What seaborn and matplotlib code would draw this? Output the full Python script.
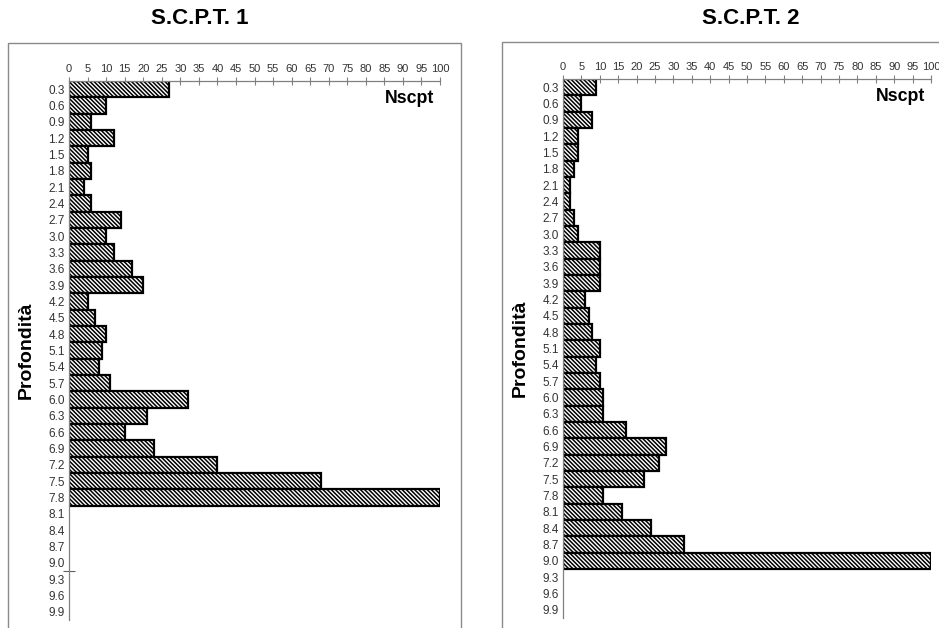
import matplotlib
matplotlib.use("Agg")
import matplotlib.pyplot as plt
from matplotlib.patches import Rectangle
import seaborn as sns
import pandas as pd

depths = ["0.3", "0.6", "0.9", "1.2", "1.5", "1.8", "2.1", "2.4", "2.7", "3.0",
          "3.3", "3.6", "3.9", "4.2", "4.5", "4.8", "5.1", "5.4", "5.7", "6.0",
          "6.3", "6.6", "6.9", "7.2", "7.5", "7.8", "8.1", "8.4", "8.7", "9.0",
          "9.3", "9.6", "9.9"]

nscpt_1 = [27, 10, 6, 12, 5, 6, 4, 6, 14, 10, 12, 17, 20, 5, 7, 10, 9, 8, 11,
           32, 21, 15, 23, 40, 68, 100]
nscpt_2 = [9, 5, 8, 4, 4, 3, 2, 2, 3, 4, 10, 10, 10, 6, 7, 8, 10, 9, 10, 11,
           11, 17, 28, 26, 22, 11, 16, 24, 33, 100]

titles = ["S.C.P.T. 1", "S.C.P.T. 2"]
x_ticks = list(range(0, 101, 5))

HATCH = "\\" * 8

sns.set_style("white")
plt.rcParams["font.family"] = ["Liberation Sans", "DejaVu Sans"]
plt.rcParams["hatch.linewidth"] = 1.1
plt.rcParams["hatch.color"] = "black"

fig = plt.figure(figsize=(9.39, 6.28), dpi=100)

# panel frames
fig.patches.append(Rectangle((8 / 939, -0.02), 453 / 939, 1 - 43 / 628 + 0.02,
                             transform=fig.transFigure, fill=False,
                             edgecolor="#8a8a8a", linewidth=1.0))
fig.patches.append(Rectangle((502 / 939, -0.02), 0.5, 1 - 41.7 / 628 + 0.02,
                             transform=fig.transFigure, fill=False,
                             edgecolor="#8a8a8a", linewidth=1.0))

axes_pos = [
    [69 / 939, 1 - 620 / 628, (440 - 69) / 939, (620 - 81) / 628],
    [563 / 939, 1 - 618 / 628, (931 - 563) / 939, (618 - 79) / 628],
]
title_x = [200 / 939, 751 / 939]
series = [nscpt_1, nscpt_2]

for i in range(2):
    ax = fig.add_axes(axes_pos[i])
    vals = series[i]
    df = pd.DataFrame({"depth": depths[:len(vals)], "n": vals})
    sns.barplot(data=df, x="n", y="depth", order=depths, orient="h",
                color="white", edgecolor="black", linewidth=1.6,
                hatch=HATCH, width=1.0, ax=ax, saturation=1)
    for p in ax.patches:
        p.set_facecolor("white")
        p.set_hatch(HATCH)
    ax.set_xlim(0, 100)
    ax.set_ylim(len(depths) - 0.5, -0.5)
    ax.xaxis.tick_top()
    ax.set_xticks(x_ticks)
    ax.set_xticklabels([str(t) for t in x_ticks])
    ax.tick_params(axis="x", direction="inout", length=6, width=0.8,
                   color="#808080", labelsize=8, labelcolor="#333333", pad=2)
    ax.tick_params(axis="y", length=0, labelsize=8.5, labelcolor="#333333", pad=3)
    if i == 0:
        ax.set_yticks([29.5], minor=True)
        ax.tick_params(axis="y", which="minor", direction="inout", length=8,
                       width=0.8, color="#606060", left=True)
    for s in ["right", "bottom"]:
        ax.spines[s].set_visible(False)
    for s in ["top", "left"]:
        ax.spines[s].set_color("#808080")
        ax.spines[s].set_linewidth(0.9)
    ax.set_xlabel("")
    ax.set_ylabel("Profondità", fontsize=14, fontweight="bold", color="black")
    ax.yaxis.set_label_coords(-0.092, 0.5)
    ax.text(0.984, 0.968, "Nscpt", transform=ax.transAxes, ha="right",
            va="center", fontsize=12.8, fontweight="bold", color="black")
    fig.text(title_x[i], 1 - 19 / 628, titles[i], ha="center", va="center",
             fontsize=16, fontweight="bold", color="black")

fig.savefig("out.png", dpi=100)
